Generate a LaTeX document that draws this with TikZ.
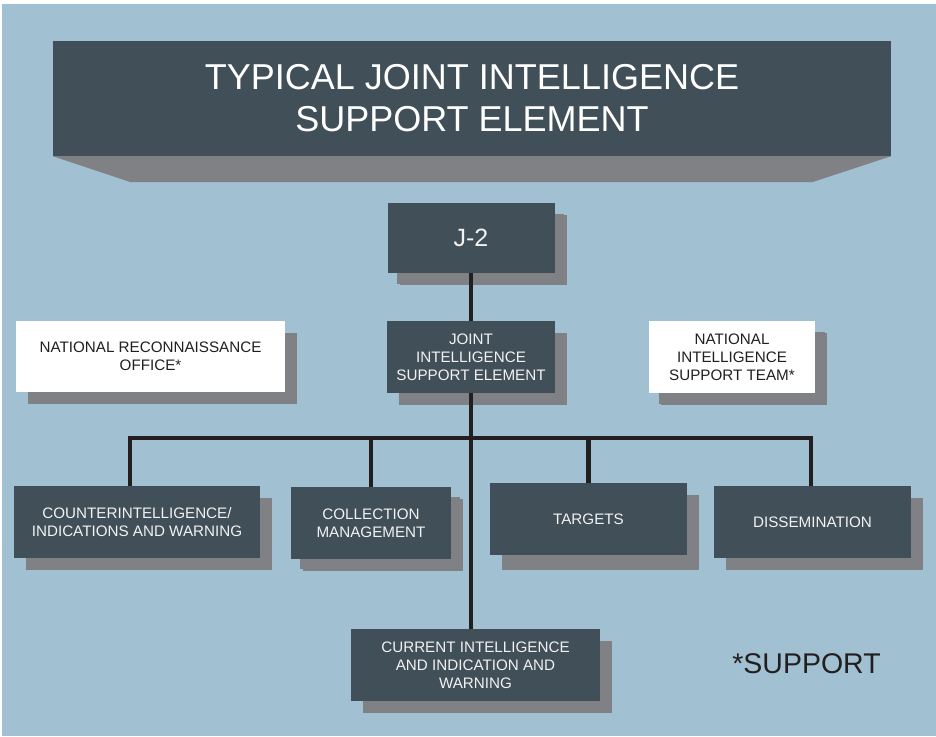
\documentclass[tikz,border=0pt]{standalone}
\usepackage{fontspec}
\setmainfont{Liberation Sans}
\usepackage{tikz}
\usetikzlibrary{shadows,calc}

\definecolor{bgblue}{RGB}{161,193,210}
\definecolor{slate}{RGB}{65,79,89}
\definecolor{shadowgray}{RGB}{128,129,133}
\definecolor{linedark}{RGB}{35,31,32}
\definecolor{offwhite}{RGB}{242,242,242}

\begin{document}
\begin{tikzpicture} [x=1pt, y=-1pt,
  darkbox/.style={fill=slate, text=offwhite, align=center, inner sep=0pt,
    font=\fontsize{15.2}{18}\selectfont,
    drop shadow={shadow xshift=12pt, shadow yshift=-12pt, fill=shadowgray, opacity=1}},
  whitebox/.style={darkbox, fill=white, text=linedark},
  link/.style={draw=linedark, line width=4.5pt}]

\useasboundingbox (0,0) rectangle (936,736);
\fill[white] (0,0) rectangle (936,736);
\fill[bgblue] (2,4) rectangle (936,736);

% title banner
\node [fill=slate, text=white, align=center, inner sep=0pt,
  minimum width=838pt, minimum height=115pt,
  font=\fontsize{36}{42}\selectfont] (title) at (472,98.5)
  {TYPICAL JOINT INTELLIGENCE\\SUPPORT ELEMENT};
\fill[shadowgray] (title.south west) -- (title.south east) -- ++(-79,26) -- ($(title.south west)+(78,26)$) -- cycle;

\node [darkbox, font=\fontsize{25}{30}\selectfont, minimum width=167pt, minimum height=70pt,
  drop shadow={shadow xshift=9pt, shadow yshift=-11pt, fill=shadowgray, opacity=1}] (j2) at (471,238) {J-2};
\node [darkbox, minimum width=168pt, minimum height=72pt] (jise) at (471,357) {JOINT\\INTELLIGENCE\\SUPPORT ELEMENT};
\node [whitebox, minimum width=269pt, minimum height=71pt] (nro) at (150.5,356.5) {NATIONAL RECONNAISSANCE\\OFFICE*};
\node [whitebox, minimum width=166pt, minimum height=72pt,
  drop shadow={shadow xshift=10pt, shadow yshift=-11pt, fill=shadowgray, opacity=1}] (nist) at (732,357) {NATIONAL\\INTELLIGENCE\\SUPPORT TEAM*};

\node [darkbox, minimum width=246pt, minimum height=72pt] (ci) at (137,522) {COUNTERINTELLIGENCE/\\INDICATIONS AND WARNING};
\node [darkbox, minimum width=160pt, minimum height=72pt,
  drop shadow={shadow xshift=9pt, shadow yshift=-10pt, fill=shadowgray, opacity=1}] (cm) at (371,523) {COLLECTION\\MANAGEMENT};
\node [darkbox, minimum width=197pt, minimum height=72pt,
  drop shadow={shadow xshift=12pt, shadow yshift=-15pt, fill=shadowgray, opacity=1}] (tg) at (588.5,519) {TARGETS};
\node [darkbox, minimum width=197pt, minimum height=72pt] (ds) at (812.5,522) {DISSEMINATION};
\node [darkbox, minimum width=249pt, minimum height=72pt] (cur) at (475.5,665) {CURRENT INTELLIGENCE\\AND INDICATION AND\\WARNING};

\node [text=linedark, font=\fontsize{28.5}{34}\selectfont] (note) at (806.5,664) {*SUPPORT};

% connectors
\coordinate (bar) at (471,438);
\draw [link] (j2) -- (jise);
\draw [link] (jise.south) -- (jise.south |- cur.north);
\draw [link] ([xshift=-7pt]ci.north) -- ([xshift=-7pt]ci.north |- bar) -- ([xshift=-1.5pt]ds.north |- bar) -- ([xshift=-1.5pt]ds.north);
\draw [link] (cm.north) -- (cm.north |- bar);
\draw [link] (tg.north) -- (tg.north |- bar);

\end{tikzpicture}
\end{document}
